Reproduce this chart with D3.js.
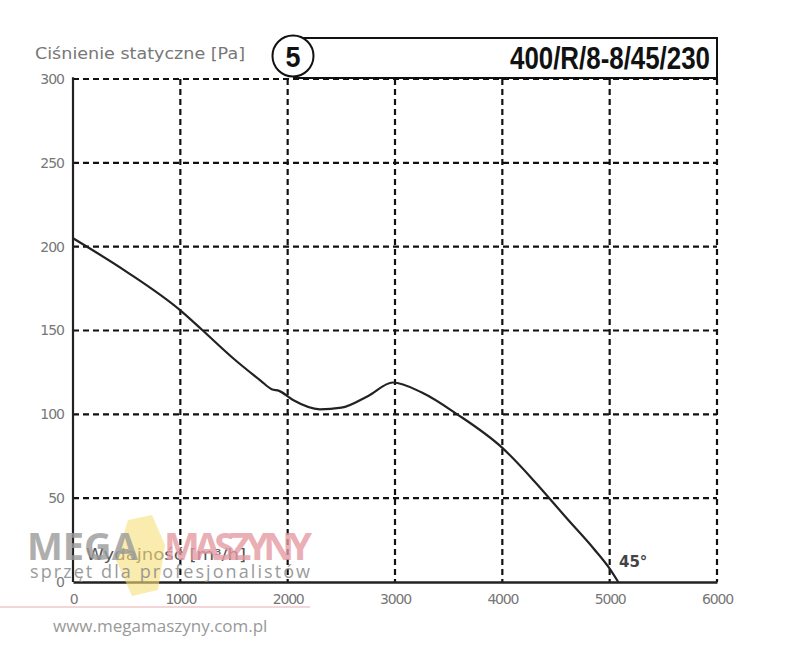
<!DOCTYPE html>
<html><head><meta charset="utf-8">
<script src="https://cdn.jsdelivr.net/npm/d3@7"></script>
<style>body{margin:0;background:#fff}</style>
</head><body><svg id="c" width="800" height="660"></svg>
<script>
const flow = [0, 500, 1000, 1209, 1500, 1750, 1851, 1920, 2050, 2300, 2500, 2750, 2980, 3250, 3580, 4000, 4300, 4600, 4850, 5000, 5080];
const pressure = [205, 185, 162, 150, 133, 120, 115, 114, 108.5, 103, 104, 111, 119, 113, 100, 80, 60, 38, 20, 8, 0];
const xTicks = [0, 1000, 2000, 3000, 4000, 5000, 6000];
const yTicks = [0, 50, 100, 150, 200, 250, 300];
const yTitle = "Ciśnienie statyczne [Pa]";
const xTitle = "Wydajność [m³/h]";
const modelNo = "5";
const modelName = "400/R/8-8/45/230";
const angleLabel = "45°";

const svg = d3.select("#c");
const x = d3.scaleLinear().domain([0, 6000]).range([73, 717]);
const y = d3.scaleLinear().domain([0, 300]).range([582, 79]);
const labelFont = "'DejaVu Sans', sans-serif";
const narrow = "'Liberation Sans Narrow','Liberation Sans',sans-serif";

// grid
const grid = svg.append("g");
grid.selectAll(".hg").data(yTicks.filter(d => d > 0)).join("line")
  .attr("x1", x(0)).attr("x2", x(6000)).attr("y1", d => y(d)).attr("y2", d => y(d))
  .attr("stroke", "#111").attr("stroke-width", 2.2).attr("stroke-dasharray", "6,4");
grid.selectAll(".vg").data(xTicks.filter(d => d > 0)).join("line")
  .attr("x1", d => x(d)).attr("x2", d => x(d)).attr("y1", y(300)).attr("y2", y(0))
  .attr("stroke", "#111").attr("stroke-width", 2.2).attr("stroke-dasharray", "6,4");

// axes
const yAxis = svg.append("g").attr("transform", `translate(${x(0)},0)`)
  .call(d3.axisLeft(y).tickValues(yTicks).tickSize(0).tickPadding(9));
yAxis.select(".domain").attr("stroke", "#222").attr("stroke-width", 2.2).attr("d", `M0,${y(301)}V${y(0)}`);
yAxis.selectAll("text").attr("font-family", labelFont).attr("font-size", 14).attr("fill", "#777").attr("letter-spacing", -1);

const xAxis = svg.append("g").attr("transform", `translate(0,${y(0)})`)
  .call(d3.axisBottom(x).tickValues(xTicks).tickSize(0).tickPadding(12).tickFormat(d3.format("d")));
xAxis.select(".domain").attr("stroke", "#222").attr("stroke-width", 2.6);
xAxis.selectAll("text").attr("font-family", labelFont).attr("font-size", 14).attr("fill", "#777").attr("letter-spacing", -1.2);

// curve
svg.append("path").datum(flow.map((f, i) => [f, pressure[i]]))
  .attr("d", d3.line().x(d => x(d[0])).y(d => y(d[1])).curve(d3.curveMonotoneX))
  .attr("fill", "none").attr("stroke", "#222").attr("stroke-width", 2.2);

// titles
svg.append("text").attr("x", 35).attr("y", 59).text(yTitle)
  .attr("font-family", labelFont).attr("font-size", 15).attr("fill", "#777")
  .attr("textLength", 210).attr("lengthAdjust", "spacingAndGlyphs");
svg.append("text").attr("x", 619).attr("y", 567).text(angleLabel)
  .attr("font-family", labelFont).attr("font-size", 15).attr("font-weight", "bold").attr("fill", "#444");

// model box
svg.append("rect").attr("x", 294).attr("y", 38).attr("width", 717 - 294).attr("height", 40)
  .attr("fill", "#fff").attr("stroke", "#111").attr("stroke-width", 2);
svg.append("circle").attr("cx", 293).attr("cy", 56).attr("r", 20.5)
  .attr("fill", "#fff").attr("stroke", "#111").attr("stroke-width", 2);
svg.append("text").attr("x", 293).attr("y", 67).attr("text-anchor", "middle").text(modelNo)
  .attr("font-family", narrow).attr("font-weight", "bold").attr("font-size", 29).attr("fill", "#111")
  .attr("textLength", 15).attr("lengthAdjust", "spacingAndGlyphs");
svg.append("text").attr("x", 510).attr("y", 69).text(modelName)
  .attr("font-family", narrow).attr("font-weight", "bold").attr("font-size", 31).attr("fill", "#111")
  .attr("textLength", 200).attr("lengthAdjust", "spacingAndGlyphs");

// x title (under watermark)
svg.append("text").attr("x", 86).attr("y", 560).text(xTitle)
  .attr("font-family", labelFont).attr("font-size", 16).attr("fill", "#555")
  .attr("textLength", 160).attr("lengthAdjust", "spacingAndGlyphs");

// watermark
const wm = svg.append("g");
wm.append("path").attr("d", "M128,520 L152,515 L165,545 L158,590 L132,596 L116,560 Z")
  .attr("fill", "#f7df7a").attr("opacity", 0.6);
wm.append("text").attr("x", 27).attr("y", 560).text("MEGA")
  .attr("font-family", "'Open Sans',sans-serif").attr("font-weight", "bold").attr("font-size", 38).attr("fill", "#9a9a9a").attr("opacity", 0.8);
wm.append("text").attr("x", 164).attr("y", 560).text("MASZYNY")
  .attr("font-family", "'Open Sans',sans-serif").attr("font-weight", "bold").attr("font-size", 38).attr("fill", "#e59aa3").attr("opacity", 0.8).attr("textLength", 148);
wm.append("text").attr("x", 30).attr("y", 578).text("sprzęt dla profesjonalistów")
  .attr("font-family", "'Open Sans',sans-serif").attr("font-size", 18).attr("fill", "#8a8a8a").attr("opacity", 0.85).attr("textLength", 282).attr("letter-spacing", 2);
wm.append("line").attr("x1", 0).attr("x2", 310).attr("y1", 607).attr("y2", 607)
  .attr("stroke", "#f0c8cc").attr("stroke-width", 1.5);
wm.append("text").attr("x", 53).attr("y", 632).text("www.megamaszyny.com.pl")
  .attr("font-family", "'Open Sans',sans-serif").attr("font-size", 17).attr("fill", "#999");
</script></body></html>
